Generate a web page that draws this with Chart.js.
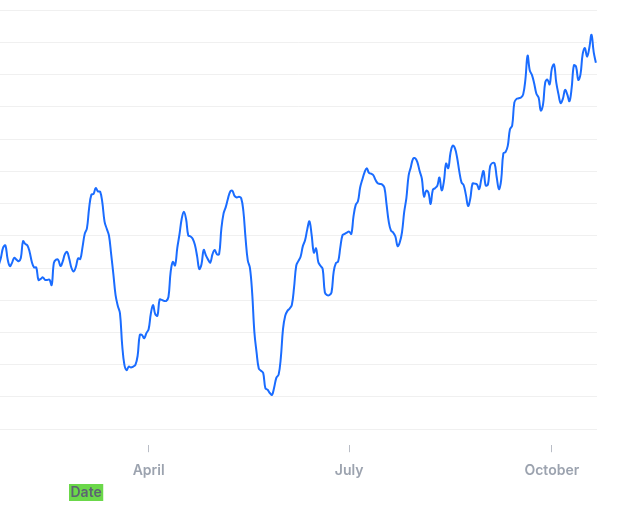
<!DOCTYPE html>
<html>
<head>
<meta charset="utf-8">
<script src="https://cdn.jsdelivr.net/npm/chart.js@4/dist/chart.umd.min.js"></script>
<style>
  html, body { margin: 0; padding: 0; background: #ffffff; }
  #wrap { width: 640px; height: 513px; position: relative; }
</style>
</head>
<body>
<div id="wrap"><canvas id="c" width="640" height="513"></canvas></div>
<script>
// ---- data ----
const startDate = '2023-01-23';           // first daily observation
const values = [
  150.9, 153.3, 156.4, 157.0, 152.8, 150.6, 151.6, 153.2, 152.6, 152.1,
  153.1, 158.3, 157.5, 157.0, 155.0, 151.9, 150.2, 150.2, 146.3, 146.6,
  147.1, 146.3, 146.3, 146.4, 144.7, 151.6, 152.6, 152.5, 150.6, 152.0,
  154.3, 155.0, 152.8, 150.0, 148.9, 150.4, 153.0, 152.8, 156.5, 160.6,
  162.3, 168.6, 172.7, 173.0, 174.8, 173.8, 173.7, 170.3, 164.4, 162.2,
  160.1, 154.3, 148.1, 141.6, 138.3, 135.9, 126.1, 120.0, 118.3, 119.4,
  119.1, 119.4, 119.9, 122.7, 129.2, 129.2, 128.2, 129.8, 131.0, 135.8,
  138.5, 135.7, 135.2, 140.2, 140.1, 139.8, 139.8, 141.0, 148.8, 151.9,
  150.8, 156.2, 160.4, 165.2, 167.5, 165.2, 160.1, 159.8, 159.1, 157.2,
  153.7, 149.7, 151.2, 155.6, 153.9, 152.6, 151.7, 154.3, 155.6, 154.3,
  154.3, 162.1, 166.9, 168.9, 171.5, 173.7, 174.0, 172.4, 171.9, 172.1,
  171.7, 167.7, 159.2, 152.4, 150.0, 142.2, 130.1, 123.8, 118.8, 118.1,
  117.4, 112.7, 112.2, 111.2, 110.6, 113.0, 116.0, 116.9, 122.1, 131.1,
  135.2, 136.7, 137.4, 138.5, 143.9, 150.7, 152.2, 153.6, 156.8, 158.6,
  162.0, 164.5, 160.2, 154.8, 156.1, 151.9, 150.7, 149.7, 142.4, 141.6,
  141.6, 142.4, 148.9, 151.5, 152.0, 156.4, 160.2, 160.6, 161.0, 161.3,
  160.6, 166.1, 169.6, 170.7, 175.0, 177.5, 179.7, 181.0, 179.5, 179.3,
  178.8, 177.3, 176.3, 176.1, 175.9, 175.0, 169.7, 164.3, 161.6, 161.0,
  159.8, 156.8, 158.0, 161.1, 167.4, 171.8, 178.7, 181.3, 183.9, 184.1,
  182.8, 180.1, 177.8, 172.2, 174.0, 173.4, 169.9, 174.3, 174.8, 175.5,
  178.1, 174.1, 176.8, 182.4, 181.0, 185.7, 188.0, 187.2, 184.3, 180.0,
  176.6, 175.7, 172.7, 169.3, 171.6, 176.2, 176.2, 176.0, 174.5, 177.6,
  180.1, 175.6, 175.9, 181.6, 182.6, 182.5, 178.1, 174.5, 177.3, 185.6,
  186.0, 187.9, 193.1, 194.2, 201.4, 202.5, 202.7, 202.9, 203.9, 208.5,
  215.9, 211.3, 209.9, 207.3, 204.1, 202.9, 198.9, 200.7, 207.6, 208.5,
  207.0, 211.9, 213.2, 207.6, 204.0, 201.2, 202.5, 205.3, 203.9, 201.8,
  205.9, 212.9, 212.5, 208.4, 210.1, 216.4, 218.3, 215.6, 218.3, 222.4,
  217.0, 213.7
];
const tickDates = ['2023-04-01', '2023-07-01', '2023-10-01'];
const tickLabels = ['April', 'July', 'October'];
const axisTitle = 'Date';

// ---- helpers ----
function dayOfYear(iso) {
  const d = new Date(iso + 'T00:00:00Z');
  const y0 = Date.UTC(d.getUTCFullYear(), 0, 1);
  return Math.round((d.getTime() - y0) / 86400000);
}
const startDay = dayOfYear(startDate);
const points = values.map((v, i) => ({ x: startDay + i, y: v }));
const tickDays = tickDates.map(dayOfYear);

const titleBox = {
  id: 'titleBox',
  afterDraw(chart) {
    const ctx = chart.ctx;
    const xs = chart.scales.x;
    const text = chart.options.scales.x.title.text;
    ctx.save();
    ctx.font = '600 14px Inter';
    const w = ctx.measureText(text).width;
    const left = xs.left + 69;
    const top = xs.bottom - 5;
    ctx.fillStyle = '#6bd84a';
    ctx.fillRect(left, top, w + 3, 17);
    ctx.fillStyle = '#5c6372';
    ctx.textBaseline = 'middle';
    ctx.textAlign = 'left';
    ctx.fillText(text, left + 1.5, top + 9);
    ctx.restore();
  }
};

Chart.defaults.font.family = 'Inter';

new Chart(document.getElementById('c'), {
  type: 'line',
  data: {
    datasets: [{
      data: points,
      borderColor: '#1a6cff',
      borderWidth: 2,
      pointRadius: 0,
      tension: 0.4,
      fill: false
    }]
  },
  options: {
    responsive: false,
    animation: false,
    devicePixelRatio: 1,
    layout: { padding: { left: 0, right: 43, top: 0, bottom: 24 } },
    plugins: { legend: { display: false }, tooltip: { enabled: false } },
    scales: {
      x: {
        type: 'linear',
        min: 22.55,
        max: 293.5,
        title: { display: false, text: axisTitle },
        border: { display: false },
        grid: { drawOnChartArea: false, drawTicks: true, tickLength: 7, color: '#b9bdc6' },
        afterBuildTicks(scale) { scale.ticks = tickDays.map(v => ({ value: v })); },
        ticks: {
          padding: 10,
          autoSkip: false,
          maxRotation: 0,
          color: '#9ca3af',
          font: { family: 'Inter', size: 14, weight: '600' },
          callback(value, index) { return tickLabels[index]; }
        }
      },
      y: {
        min: 95,
        max: 233.2,
        border: { display: false },
        grid: { color: 'rgba(0,0,0,0.06)', drawTicks: false },
        ticks: { display: false, stepSize: 10, includeBounds: false }
      }
    }
  },
  plugins: [titleBox]
});
</script>
</body>
</html>
